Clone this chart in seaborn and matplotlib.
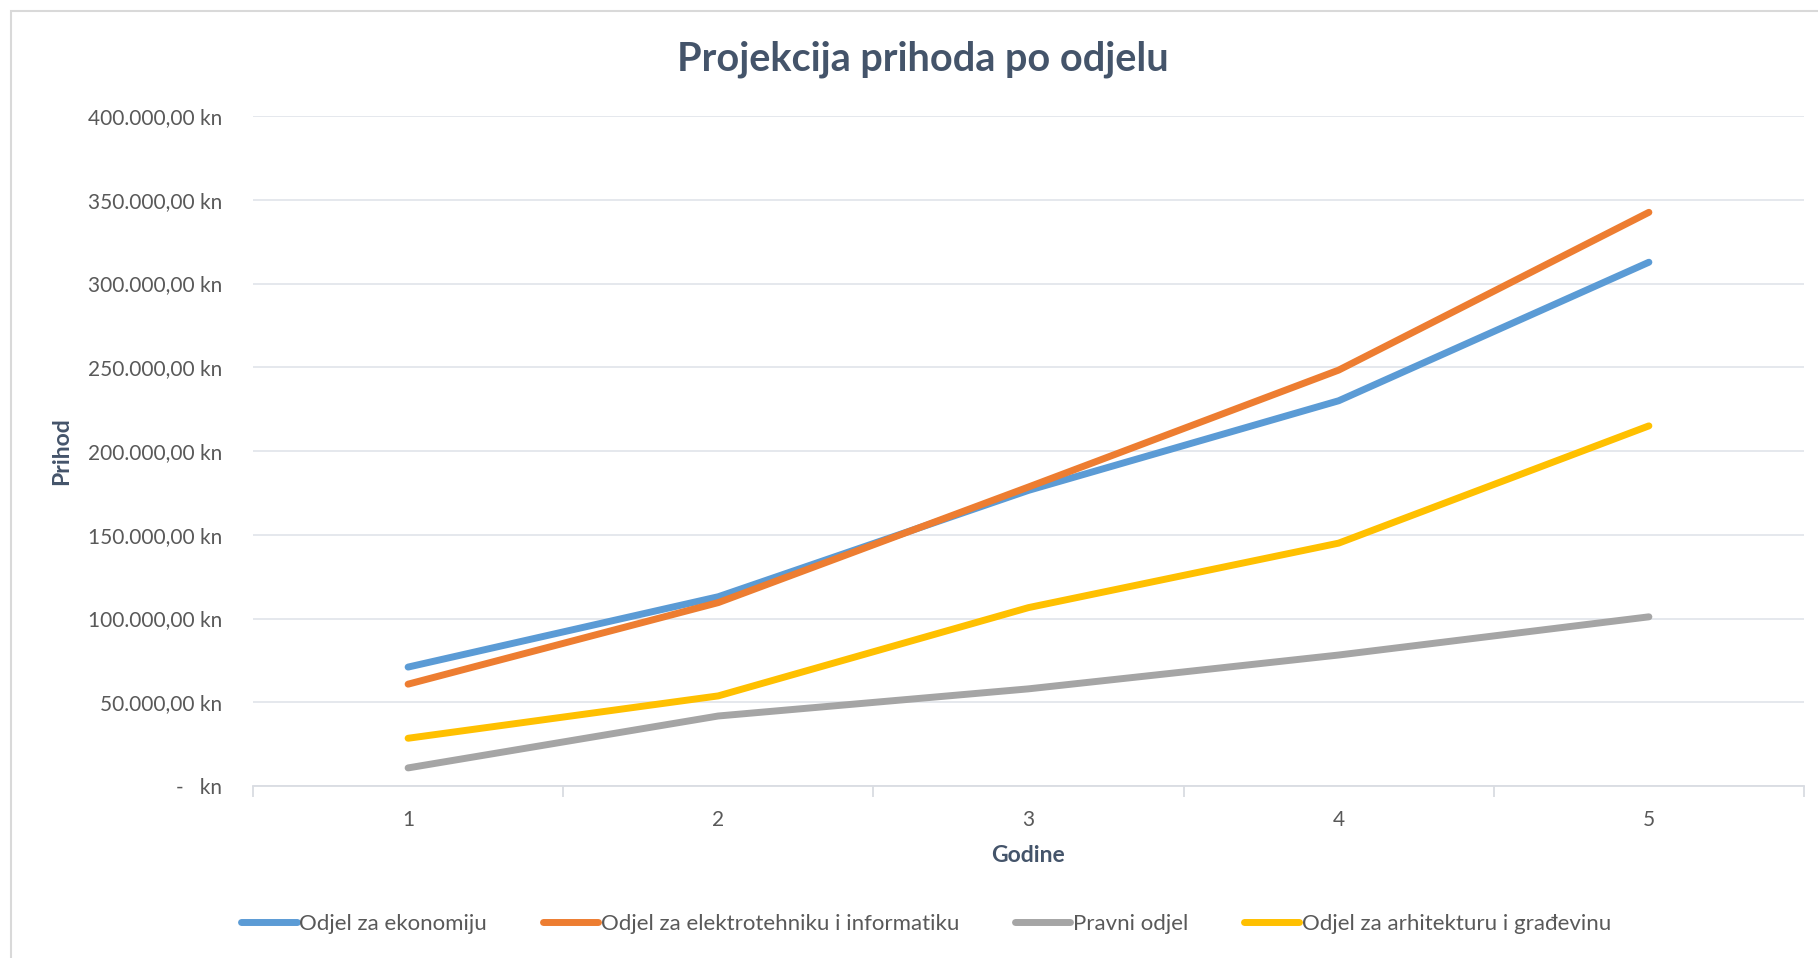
import matplotlib
matplotlib.use("Agg")
import matplotlib.pyplot as plt
from matplotlib.ticker import FuncFormatter, FixedLocator
from matplotlib.patches import Rectangle
import seaborn as sns
import pandas as pd

# ---- data ----
godine = [1, 2, 3, 4, 5]
odjeli = ["Odjel za ekonomiju", "Odjel za elektrotehniku i informatiku",
          "Pravni odjel", "Odjel za arhitekturu i građevinu"]
ekonomija = [71000, 113000, 176500, 230000, 312700]
elektrotehnika = [60800, 109500, 178500, 248300, 342500]
pravni = [10800, 41800, 58000, 78200, 101000]
arhitektura = [28500, 53800, 106500, 145000, 215000]
boje = ["#5B9BD5", "#ED7D31", "#A5A5A5", "#FFC000"]

rows = []
for name, vals in zip(odjeli, [ekonomija, elektrotehnika, pravni, arhitektura]):
    for g, v in zip(godine, vals):
        rows.append({"Godine": g, "Prihod": v, "Odjel": name})
df = pd.DataFrame(rows)

sns.set_theme(style="white")
plt.rcParams["font.family"] = ["Lato", "DejaVu Sans"]

W, H = 1818, 958
fig = plt.figure(figsize=(W / 100, H / 100), dpi=100)
ax = fig.add_axes([253 / W, 1 - 786 / H, (1804 - 253) / W, (786 - 116) / H])

sns.lineplot(data=df, x="Godine", y="Prihod", hue="Odjel", hue_order=odjeli,
             palette=boje, linewidth=5, ax=ax, legend=True,
             solid_capstyle="round", solid_joinstyle="round")

ax.set_xlim(0.5, 5.5)
ax.set_ylim(0, 400000)
ax.set_yticks(range(0, 400001, 50000))
ax.set_xticks(godine)


def fmt(v, pos):
    if v == 0:
        return "-   kn"
    s = f"{v:,.2f}".replace(",", "X").replace(".", ",").replace("X", ".")
    return s + " kn"


ax.yaxis.set_major_formatter(FuncFormatter(fmt))
ax.grid(axis="y", color="#E3E6EC", linewidth=1.3)
ax.grid(axis="x", visible=False)
for s in ["top", "right", "left"]:
    ax.spines[s].set_visible(False)
ax.spines["bottom"].set_color("#D9DCE2")
ax.spines["bottom"].set_linewidth(1.3)

ax.xaxis.set_minor_locator(FixedLocator([0.5, 1.5, 2.5, 3.5, 4.5, 5.5]))
ax.tick_params(axis="x", which="minor", length=8, width=1.3, color="#D9DCE2",
               direction="out", bottom=True)
ax.tick_params(axis="x", which="major", length=0, pad=17, labelsize=15,
               labelcolor="#595959")
ax.tick_params(axis="y", length=0, pad=22, labelsize=15, labelcolor="#595959")

ax.set_xlabel("Godine", fontsize=16.5, fontweight="bold", color="#44546A", labelpad=11)
ax.set_ylabel("Prihod", fontsize=16.5, fontweight="bold", color="#44546A")
ax.yaxis.set_label_coords((72 - 253) / (1804 - 253), 0.50)

fig.text(923 / W, 1 - 59 / H, "Projekcija prihoda po odjelu", ha="center", va="center",
         fontsize=28.5, fontweight="bold", color="#44546A")

handles, labels = ax.get_legend_handles_labels()
ax.legend_.remove()
for h in handles:
    h.set_linewidth(5)
    h.set_solid_capstyle("round")
leg = fig.legend(handles, labels, loc="center", bbox_to_anchor=(0.5095, 1 - 924 / H),
                 ncol=4, frameon=False, fontsize=16, handlelength=2.5,
                 handletextpad=0.12, columnspacing=2.5)
for t in leg.get_texts():
    t.set_color("#595959")

# outer chart border (left and top visible)
fig.patches.append(Rectangle((11 / W, -0.1), 1.2, 1 - 11 / H + 0.1,
                             transform=fig.transFigure, fill=False,
                             edgecolor="#D9D9D9", linewidth=1.5))

fig.savefig("out.png", dpi=100)
